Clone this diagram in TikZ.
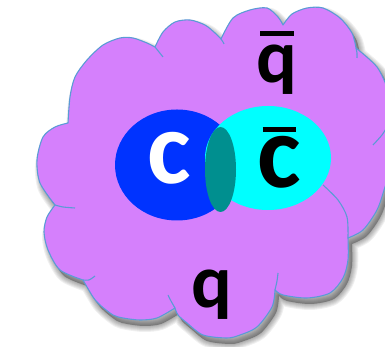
\documentclass[tikz,border=0pt]{standalone}
\usepackage{fontspec}
\setmainfont{Carlito}
\usetikzlibrary{shapes.geometric}
\definecolor{cviolet}{HTML}{D580FC}
\definecolor{cedge}{HTML}{5B9BD5}
\definecolor{cblue}{HTML}{0033FF}
\definecolor{ccyan}{HTML}{00FFFF}
\definecolor{cteal}{HTML}{008F8F}
% letter with a bar over it: bar width, gap, letter
\newcommand\barred[3]{\vbox{\offinterlineskip\halign{\hfil##\hfil\cr\rule{#1}{5pt}\cr\noalign{\kern#2}#3\cr}}}
% outline of the cloud, one smooth plot per puff
\def\cloudshape{
  plot[smooth] coordinates {(68,224) (70,250) (75,270) (87,287) (103,302) (120,309) (133,309) (147,304) (155,300)}
  -- plot[smooth] coordinates {(155,300) (163,315) (175,325) (190,327) (205,322) (215,314) (221,308)}
  -- plot[smooth] coordinates {(221,308) (233,329) (250,337) (267,339) (278,330) (283,322)}
  -- plot[smooth] coordinates {(283,322) (292,333) (307,339) (323,339) (340,329) (352,314) (356,299)}
  -- plot[smooth] coordinates {(356,299) (377,280) (388,257) (392,237) (387,220)}
  -- plot[smooth] coordinates {(387,220) (393,187) (385,160) (377,137) (363,117) (348,109)}
  -- plot[smooth] coordinates {(348,109) (348,87) (343,69) (330,54) (307,49) (283,52) (275,57)}
  -- plot[smooth] coordinates {(275,57) (272,40) (257,20) (240,12) (227,9) (203,12) (187,24) (178,32) (175,39)}
  -- plot[smooth] coordinates {(175,39) (157,29) (140,27) (123,29) (113,32) (100,42) (93,50) (83,67)}
  -- plot[smooth] coordinates {(83,67) (60,77) (48,97) (44,115) (47,130) (55,142)}
  -- plot[smooth] coordinates {(55,142) (40,164) (37,187) (43,210) (55,220) (68,224)}
  -- cycle}
\tikzset{
  every picture/.style={x=1pt, y=1pt},
  puff/.style={draw=cedge, fill=cviolet, line width=1.1pt, line join=round},
  crease/.style={draw=cedge, line width=1.1pt},
  blob/.style={ellipse, draw=none, fill=#1, inner sep=0pt},
  letter/.style={font=\fontsize{#1}{#1}\selectfont\bfseries, anchor=base, inner sep=0pt},
}
\begin{document}
\begin{tikzpicture}
  \useasboundingbox (0,0) rectangle (385,347);
  \clip (0,0) rectangle (385,347);
  % soft shadow
  \foreach \w in {12,10,...,2}
    \filldraw[black, opacity=0.06, line width=\w pt, line join=round, shift={(4,-6)}] \cloudshape;
  \filldraw[puff] \cloudshape;
  \draw[crease] plot[smooth] coordinates {(155,300) (159,295) (163,290)};
  \draw[crease] plot[smooth] coordinates {(221,308) (223,305) (224,303)};
  \draw[crease] plot[smooth] coordinates {(356,299) (357,294) (357,289)};
  \draw[crease] plot[smooth] coordinates {(387,220) (382,212) (373,202)};
  \draw[crease] plot[smooth] coordinates {(348,109) (347,130) (338,147) (323,162)};
  \draw[crease] plot[smooth] coordinates {(275,57) (277,66) (278,74)};
  \draw[crease] plot[smooth] coordinates {(175,39) (171,46) (168,52)};
  \draw[crease] plot[smooth] coordinates {(83,67) (89,67) (95,71)};
  \draw[crease] plot[smooth] coordinates {(55,142) (63,140) (75,139)};

  \node[blob=cblue, minimum width=124pt, minimum height=111pt] (cquark) at (177,182) {};
  \node[blob=ccyan, minimum width=126pt, minimum height=104pt] (cbarquark) at (268,189) {};
  \node[blob=cteal, minimum width=31pt, minimum height=85pt] (overlap) at (220.5,177.5) {};

  \node[letter=104, text=white] (clab) at (169,163) {c};
  \node[letter=104] (cbarlab) at (279,159) {\barred{33pt}{5pt}{c}};
  \node[letter=76] (qbarlab) at (277,264) {\barred{34pt}{9pt}{q}};
  \node[letter=76] (qlab) at (212,39) {q};
\end{tikzpicture}
\end{document}
